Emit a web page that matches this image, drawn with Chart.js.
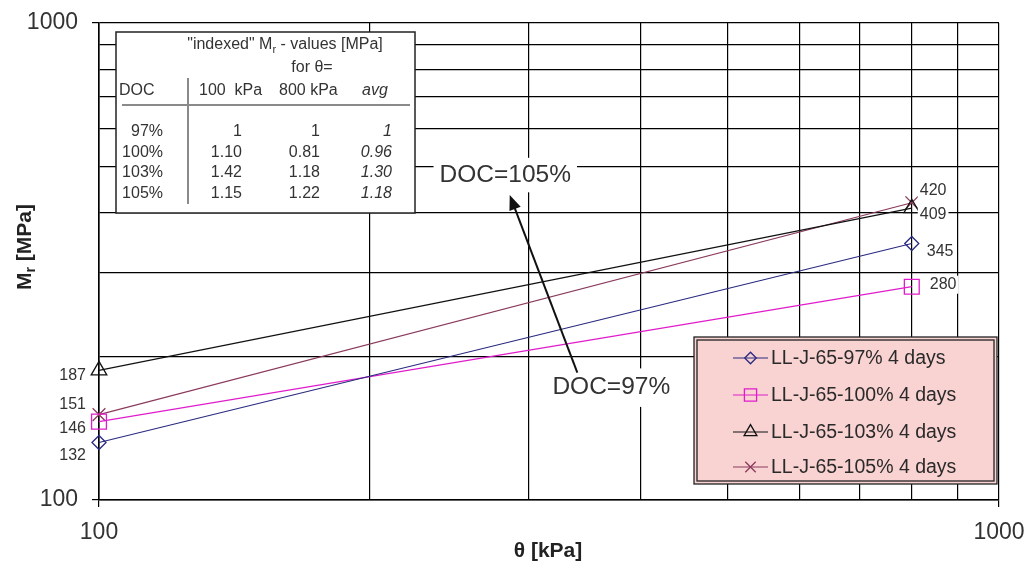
<!DOCTYPE html>
<html>
<head>
<meta charset="utf-8">
<script src="https://cdn.jsdelivr.net/npm/chart.js@4/dist/chart.umd.min.js"></script>
<style>
  html, body { margin: 0; padding: 0; background: #fff; }
  canvas { display: block; }
</style>
</head>
<body>
<canvas id="chart" width="1029" height="567"></canvas>
<script>
// Resilient modulus Mr versus bulk stress theta, log-log axes
const thetaValues = [100, 800];
const seriesLabels = ['LL-J-65-97% 4 days', 'LL-J-65-100% 4 days', 'LL-J-65-103% 4 days', 'LL-J-65-105% 4 days'];
const mr97 = [132, 345];
const mr100 = [146, 280];
const mr103 = [187, 409];
const mr105 = [151, 420];
const axisTickLabels = [100, 1000];
const gridValues = [100, 200, 300, 400, 500, 600, 700, 800, 900, 1000];

// "indexed" Mr table (ratio to DOC = 97%)
const tableDoc = ['97%', '100%', '103%', '105%'];
const index100 = ['1', '1.10', '1.42', '1.15'];
const index800 = ['1', '0.81', '1.18', '1.22'];
const indexAvg = ['1', '0.96', '1.30', '1.18'];

const FONT = "'Liberation Sans', Arial, Helvetica, sans-serif";

const seriesValues = [mr97, mr100, mr103, mr105];
const seriesStyles = [
  { color: '#2a2a80', point: 'rectRot', radius: 7 },
  { color: '#e01ccc', point: 'rect', radius: 10.5 },
  { color: '#111111', point: 'triangle', radius: 9 },
  { color: '#8a3a5c', point: 'crossRot', radius: 9 }
];
// value-label nudges (pixels) so the stacked numbers do not overlap
const startLabelShift = [13, 7, 5, -10];
const endLabelShift = [{ dx: 15, dy: 8 }, { dx: 18, dy: -2 }, { dx: 8, dy: 6 }, { dx: 8, dy: -12 }];

const datasets = seriesValues.map((vals, i) => ({
  label: seriesLabels[i],
  data: thetaValues.map((t, j) => ({ x: t, y: vals[j] })),
  borderColor: seriesStyles[i].color,
  borderWidth: 1.2,
  pointStyle: seriesStyles[i].point,
  pointRadius: seriesStyles[i].radius,
  pointBorderColor: seriesStyles[i].color,
  pointBackgroundColor: 'rgba(255,255,255,0)',
  pointBorderWidth: 1.3,
  tension: 0,
  clip: false
}));

function textWithBox(ctx, text, x, y, align, pad) {
  const w = ctx.measureText(text).width;
  const left = align === 'right' ? x - w : (align === 'center' ? x - w / 2 : x);
  const h = parseFloat(ctx.font.match(/(\d+(\.\d+)?)px/)[1]);
  ctx.fillStyle = '#fff';
  ctx.fillRect(left - pad, y - h / 2 - pad + 1, w + 2 * pad, h + 2 * pad - 2);
  ctx.fillStyle = '#333';
  ctx.textAlign = align;
  ctx.fillText(text, x, y);
}

const decor = {
  id: 'decor',
  afterDraw(chart) {
    const { ctx } = chart;
    const xs = chart.scales.x, ys = chart.scales.y;
    ctx.save();
    ctx.textBaseline = 'middle';

    // value labels at the two ends of each line
    ctx.font = '16px ' + FONT;
    seriesValues.forEach((vals, i) => {
      const px0 = xs.getPixelForValue(thetaValues[0]);
      const py0 = ys.getPixelForValue(vals[0]);
      ctx.fillStyle = '#333';
      ctx.textAlign = 'right';
      ctx.fillText(String(vals[0]), px0 - 13, py0 + startLabelShift[i]);
      const px1 = xs.getPixelForValue(thetaValues[1]);
      const py1 = ys.getPixelForValue(vals[1]);
      textWithBox(ctx, String(vals[1]), px1 + endLabelShift[i].dx, py1 + endLabelShift[i].dy, 'left', 2);
    });

    // DOC annotations with arrow
    ctx.font = '24.5px ' + FONT;
    textWithBox(ctx, 'DOC=105%', xs.getPixelForValue(239), ys.getPixelForValue(480), 'left', 6);
    textWithBox(ctx, 'DOC=97%', xs.getPixelForValue(319), ys.getPixelForValue(172), 'left', 8);
    const ax0 = xs.getPixelForValue(340), ay0 = ys.getPixelForValue(185);
    const ax1 = xs.getPixelForValue(286), ay1 = ys.getPixelForValue(436);
    const ang = Math.atan2(ay1 - ay0, ax1 - ax0);
    const headLen = 15, headW = 6;
    ctx.strokeStyle = '#111';
    ctx.lineWidth = 2;
    ctx.beginPath();
    ctx.moveTo(ax0, ay0);
    ctx.lineTo(ax1 - Math.cos(ang) * headLen * 0.8, ay1 - Math.sin(ang) * headLen * 0.8);
    ctx.stroke();
    ctx.fillStyle = '#111';
    ctx.beginPath();
    ctx.moveTo(ax1, ay1);
    ctx.lineTo(ax1 - Math.cos(ang) * headLen - Math.sin(ang) * headW, ay1 - Math.sin(ang) * headLen + Math.cos(ang) * headW);
    ctx.lineTo(ax1 - Math.cos(ang) * headLen + Math.sin(ang) * headW, ay1 - Math.sin(ang) * headLen - Math.cos(ang) * headW);
    ctx.closePath();
    ctx.fill();

    // indexed-values table
    const tb = { l: 116, t: 32, r: 415, b: 213 };
    ctx.fillStyle = '#fff';
    ctx.fillRect(tb.l, tb.t, tb.r - tb.l, tb.b - tb.t);
    ctx.strokeStyle = '#222';
    ctx.lineWidth = 1.5;
    ctx.strokeRect(tb.l, tb.t, tb.r - tb.l, tb.b - tb.t);
    ctx.fillStyle = '#333';
    ctx.font = '16px ' + FONT;
    const p1 = '"indexed" M', p2 = 'r', p3 = ' - values [MPa]';
    const w1 = ctx.measureText(p1).width, w3 = ctx.measureText(p3).width;
    ctx.font = '11px ' + FONT;
    const w2 = ctx.measureText(p2).width;
    let tx = 285 - (w1 + w2 + w3) / 2;
    ctx.textAlign = 'left';
    ctx.font = '16px ' + FONT;
    ctx.fillText(p1, tx, 45);
    ctx.font = '11px ' + FONT;
    ctx.fillText(p2, tx + w1, 50);
    ctx.font = '16px ' + FONT;
    ctx.fillText(p3, tx + w1 + w2, 45);
    ctx.textAlign = 'center';
    ctx.fillText('for \u03b8=', 312, 68);
    ctx.textAlign = 'left';
    ctx.fillText('DOC', 119, 91);
    ctx.fillText('100  kPa', 199, 91);
    ctx.fillText('800 kPa', 279, 91);
    ctx.font = 'italic 16px ' + FONT;
    ctx.fillText('avg', 362, 91);
    ctx.strokeStyle = '#8a8a8a';
    ctx.lineWidth = 2;
    ctx.beginPath();
    ctx.moveTo(122, 105); ctx.lineTo(410, 105);
    ctx.moveTo(188, 78); ctx.lineTo(188, 204);
    ctx.stroke();
    const rowY = [132, 153, 173, 194];
    tableDoc.forEach((d, i) => {
      ctx.fillStyle = '#333';
      ctx.textAlign = 'right';
      ctx.font = '16px ' + FONT;
      ctx.fillText(d, 163, rowY[i]);
      ctx.fillText(index100[i], 242, rowY[i]);
      ctx.fillText(index800[i], 320, rowY[i]);
      ctx.font = 'italic 16px ' + FONT;
      ctx.fillText(indexAvg[i], 392, rowY[i]);
    });

    // legend box
    const lg = { l: 694, t: 337, r: 997, b: 484 };
    ctx.fillStyle = '#f9d2d2';
    ctx.fillRect(lg.l, lg.t, lg.r - lg.l, lg.b - lg.t);
    ctx.strokeStyle = '#222';
    ctx.lineWidth = 1.3;
    ctx.strokeRect(lg.l, lg.t, lg.r - lg.l, lg.b - lg.t);
    ctx.strokeRect(lg.l + 3, lg.t + 3, lg.r - lg.l - 6, lg.b - lg.t - 6);
    const legY = [358, 395, 432, 467];
    chart.data.datasets.forEach((ds, i) => {
      const yy = legY[i];
      ctx.strokeStyle = seriesStyles[i].color;
      ctx.lineWidth = 1.2;
      ctx.beginPath();
      ctx.moveTo(733, yy); ctx.lineTo(768, yy);
      ctx.stroke();
      ctx.lineWidth = 1.3;
      ctx.fillStyle = 'rgba(0,0,0,0)';
      Chart.helpers.drawPoint(ctx, {
        pointStyle: seriesStyles[i].point,
        radius: seriesStyles[i].radius * 0.82,
        rotation: 0,
        borderWidth: 1.3
      }, 750.5, yy);
      ctx.fillStyle = '#2a2a2a';
      ctx.textAlign = 'left';
      ctx.font = '19.5px ' + FONT;
      ctx.fillText(ds.label, 771, yy + 1);
    });

    // axis titles
    ctx.fillStyle = '#222';
    ctx.font = 'bold 21px ' + FONT;
    ctx.textAlign = 'center';
    ctx.fillText('\u03b8 [kPa]', 548, 551);
    ctx.translate(25, 247);
    ctx.rotate(-Math.PI / 2);
    const a = 'M', b = 'r', c = ' [MPa]';
    ctx.font = 'bold 21px ' + FONT;
    const wa = ctx.measureText(a).width, wc = ctx.measureText(c).width;
    ctx.font = 'bold 14px ' + FONT;
    const wb = ctx.measureText(b).width;
    let sx = -(wa + wb + wc) / 2;
    ctx.textAlign = 'left';
    ctx.font = 'bold 21px ' + FONT;
    ctx.fillText(a, sx, 0);
    ctx.font = 'bold 14px ' + FONT;
    ctx.fillText(b, sx + wa, 6);
    ctx.font = 'bold 21px ' + FONT;
    ctx.fillText(c, sx + wa + wb, 0);
    ctx.restore();
  }
};

const tickColorFor = (c) => (c.tick && axisTickLabels.includes(c.tick.value)) ? '#000' : 'rgba(0,0,0,0)';
const tickLabel = (v) => axisTickLabels.includes(v) ? String(v) : '';
const useGridValues = (s) => { s.ticks = gridValues.map(v => ({ value: v })); };

new Chart(document.getElementById('chart'), {
  type: 'line',
  data: { datasets },
  options: {
    responsive: false,
    animation: false,
    layout: { padding: { top: 23, right: 30, left: 0, bottom: 0 } },
    plugins: { legend: { display: false }, tooltip: { enabled: false } },
    scales: {
      x: {
        type: 'logarithmic',
        min: 100,
        max: 1000,
        afterBuildTicks: useGridValues,
        afterFit(s) { s.height = 67; s.paddingLeft = 0; s.paddingRight = 0; },
        grid: { color: '#000', lineWidth: 1.2, tickLength: 7, tickColor: tickColorFor },
        border: { color: '#000', width: 1.6 },
        ticks: { autoSkip: false, maxRotation: 0, padding: 12, color: '#333', font: { family: FONT, size: 23 }, callback: tickLabel }
      },
      y: {
        type: 'logarithmic',
        min: 100,
        max: 1000,
        afterBuildTicks: useGridValues,
        afterFit(s) { s.width = 99; s.paddingTop = 0; s.paddingBottom = 0; },
        grid: { color: '#000', lineWidth: 1.2, tickLength: 7, tickColor: tickColorFor },
        border: { color: '#000', width: 1.6 },
        ticks: { autoSkip: false, padding: 14, color: '#333', font: { family: FONT, size: 23 }, callback: tickLabel }
      }
    }
  },
  plugins: [decor]
});
</script>
</body>
</html>
